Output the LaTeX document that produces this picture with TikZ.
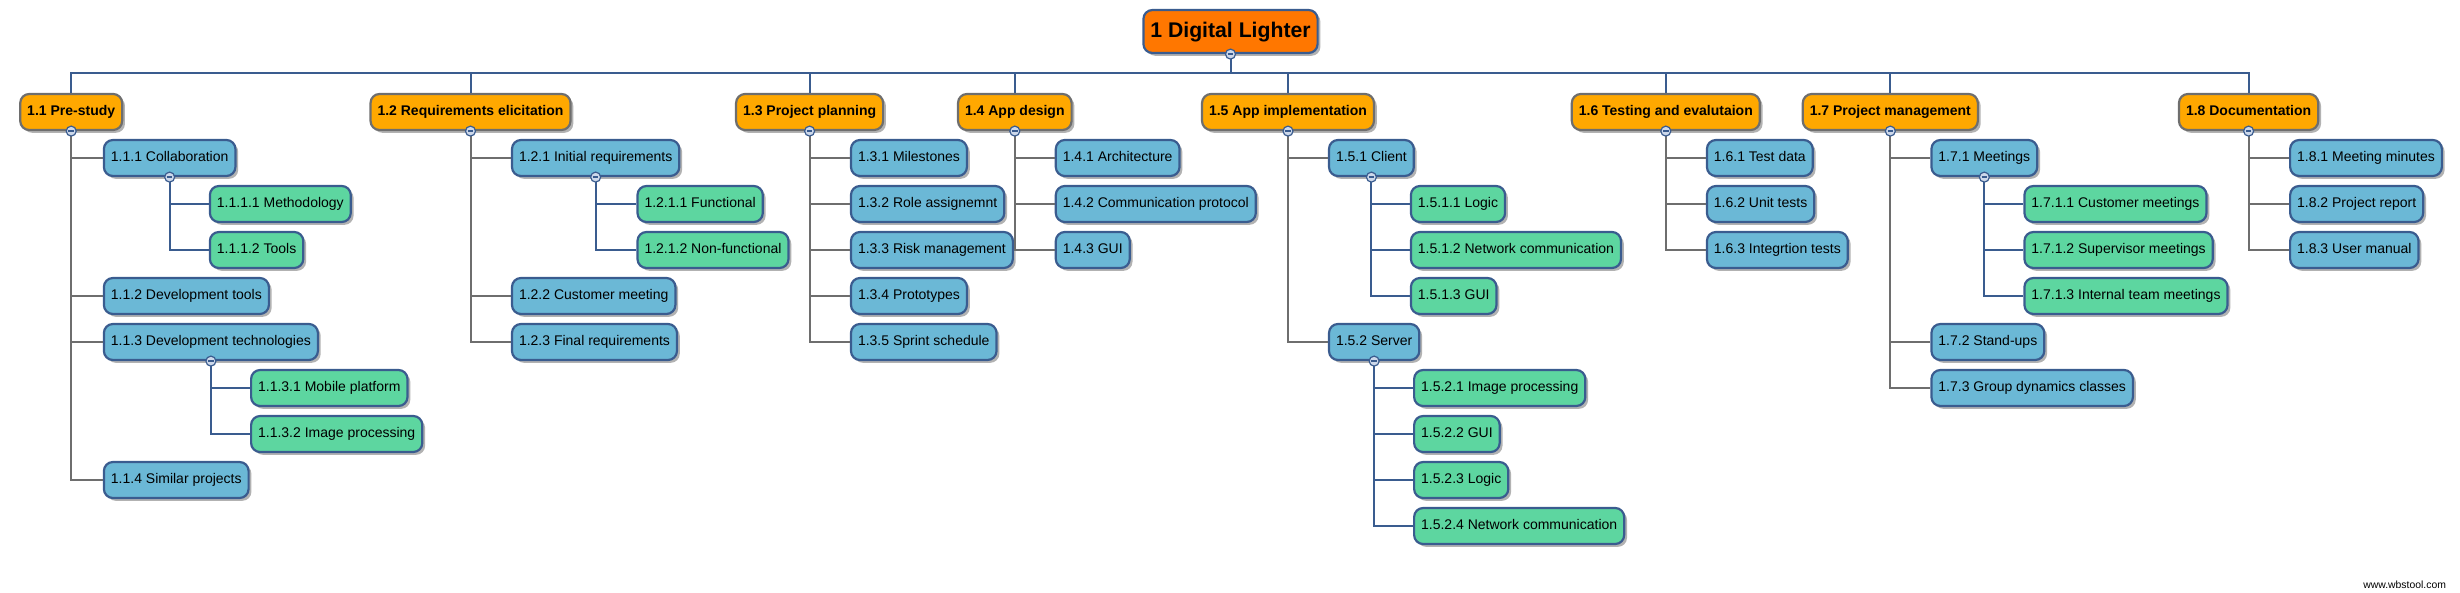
\documentclass[tikz,border=0pt]{standalone}
\usepackage{fontspec}
\setmainfont{Liberation Sans}
\usetikzlibrary{shadows}
\definecolor{wbsroot}{RGB}{255,119,0}
\definecolor{wbsorange}{RGB}{255,168,0}
\definecolor{wbsblue}{RGB}{107,184,214}
\definecolor{wbsgreen}{RGB}{93,214,160}
\definecolor{wbsline}{RGB}{58,92,143}
\definecolor{wbsgray}{RGB}{110,110,110}
\definecolor{wbsknob}{RGB}{205,216,234}
\begin{document}
\begin{tikzpicture}[x=0.5pt,y=-0.5pt,
  box/.style={draw=wbsline,line width=1.1pt,rounded corners=4.5pt,minimum height=18pt,
    inner xsep=3.5pt,inner ysep=0pt,text height=5.3pt,text depth=1.5pt,
    font=\fontsize{7}{8}\selectfont,
    drop shadow={shadow xshift=1.4pt,shadow yshift=-1.4pt,opacity=0.3,fill=black}},
  top/.style={box,fill=wbsroot,minimum height=21.5pt,text height=7.8pt,text depth=2.2pt,
    font=\fontsize{10.6}{12}\selectfont\bfseries},
  phase/.style={box,fill=wbsorange,draw=wbsgray,font=\fontsize{7}{8}\selectfont\bfseries},
  task/.style={box,fill=wbsblue,anchor=west},
  sub/.style={box,fill=wbsgreen,anchor=west},
  bus/.style={wbsline,line width=1pt},
  stem/.style={wbsgray,line width=1pt},
  twig/.style={wbsline,line width=1pt},
  knob/.style={circle,draw=wbsline,fill=wbsknob,line width=0.6pt,minimum size=5pt,inner sep=0pt,
    path picture={\draw[wbsline,line width=0.8pt] ([xshift=-1.4pt]path picture bounding box.center)
      -- ([xshift=1.4pt]path picture bounding box.center);}}]
  \useasboundingbox (0,0) rectangle (2460,593);
  % Root
  \node[top] (root) at (1230.5,31.5) {1 Digital Lighter};
  % Phases
  \node[phase] (p11) at (71.2,112) {1.1 Pre-study};
  \node[phase] (p12) at (470.5,112) {1.2 Requirements elicitation};
  \node[phase] (p13) at (809.6,112) {1.3 Project planning};
  \node[phase] (p14) at (1014.8,112) {1.4 App design};
  \node[phase] (p15) at (1288,112) {1.5 App implementation};
  \node[phase] (p16) at (1665.8,112) {1.6 Testing and evalutaion};
  \node[phase] (p17) at (1890.3,112) {1.7 Project management};
  \node[phase] (p18) at (2248.6,112) {1.8 Documentation};
  % 1.1 Pre-study
  \node[task] (t111) at (102.8,158) {1.1.1 Collaboration};
  \node[sub] (s1111) at (208.8,204) {1.1.1.1 Methodology};
  \node[sub] (s1112) at (208.8,250) {1.1.1.2 Tools};
  \node[task] (t112) at (102.8,296) {1.1.2 Development tools};
  \node[task] (t113) at (102.8,342) {1.1.3 Development technologies};
  \node[sub] (s1131) at (250,388) {1.1.3.1 Mobile platform};
  \node[sub] (s1132) at (250,434) {1.1.3.2 Image processing};
  \node[task] (t114) at (102.8,480) {1.1.4 Similar projects};
  % 1.2 Requirements
  \node[task] (t121) at (510.9,158) {1.2.1 Initial requirements};
  \node[sub] (s1211) at (636.4,204) {1.2.1.1 Functional};
  \node[sub] (s1212) at (636.4,250) {1.2.1.2 Non-functional};
  \node[task] (t122) at (510.9,296) {1.2.2 Customer meeting};
  \node[task] (t123) at (510.9,342) {1.2.3 Final requirements};
  % 1.3 Planning
  \node[task] (t131) at (849.9,158) {1.3.1 Milestones};
  \node[task] (t132) at (849.9,204) {1.3.2 Role assignemnt};
  \node[task] (t133) at (849.9,250) {1.3.3 Risk management};
  \node[task] (t134) at (849.9,296) {1.3.4 Prototypes};
  \node[task] (t135) at (849.9,342) {1.3.5 Sprint schedule};
  % 1.4 Design
  \node[task] (t141) at (1054.7,158) {1.4.1 Architecture};
  \node[task] (t142) at (1054.7,204) {1.4.2 Communication protocol};
  \node[task] (t143) at (1054.7,250) {1.4.3 GUI};
  % 1.5 Implementation
  \node[task] (t151) at (1327.9,158) {1.5.1 Client};
  \node[sub] (s1511) at (1409.8,204) {1.5.1.1 Logic};
  \node[sub] (s1512) at (1409.8,250) {1.5.1.2 Network communication};
  \node[sub] (s1513) at (1409.8,296) {1.5.1.3 GUI};
  \node[task] (t152) at (1327.9,342) {1.5.2 Server};
  \node[sub] (s1521) at (1413,388) {1.5.2.1 Image processing};
  \node[sub] (s1522) at (1413,434) {1.5.2.2 GUI};
  \node[sub] (s1523) at (1413,480) {1.5.2.3 Logic};
  \node[sub] (s1524) at (1413,526) {1.5.2.4 Network communication};
  % 1.6 Testing
  \node[task] (t161) at (1705.8,158) {1.6.1 Test data};
  \node[task] (t162) at (1705.8,204) {1.6.2 Unit tests};
  \node[task] (t163) at (1705.8,250) {1.6.3 Integrtion tests};
  % 1.7 Management
  \node[task] (t171) at (1930.3,158) {1.7.1 Meetings};
  \node[sub] (s1711) at (2023.3,204) {1.7.1.1 Customer meetings};
  \node[sub] (s1712) at (2023.3,250) {1.7.1.2 Supervisor meetings};
  \node[sub] (s1713) at (2023.3,296) {1.7.1.3 Internal team meetings};
  \node[task] (t172) at (1930.3,342) {1.7.2 Stand-ups};
  \node[task] (t173) at (1930.3,388) {1.7.3 Group dynamics classes};
  % 1.8 Documentation
  \node[task] (t181) at (2289,158) {1.8.1 Meeting minutes};
  \node[task] (t182) at (2289,204) {1.8.2 Project report};
  \node[task] (t183) at (2289,250) {1.8.3 User manual};
  % Bus from root to phases
  \coordinate (bus) at (1230.5,73.5);
  \draw[bus] (root.south) -- (bus);
  \draw[bus] (bus) -| (p11.north);
  \draw[bus] (bus) -| (p12.north);
  \draw[bus] (bus) -| (p13.north);
  \draw[bus] (bus) -| (p14.north);
  \draw[bus] (bus) -| (p15.north);
  \draw[bus] (bus) -| (p16.north);
  \draw[bus] (bus) -| (p17.north);
  \draw[bus] (bus) -| (p18.north);
  % Phase to task
  \draw[stem] (p11.south) |- (t111.west);
  \draw[stem] (p11.south) |- (t112.west);
  \draw[stem] (p11.south) |- (t113.west);
  \draw[stem] (p11.south) |- (t114.west);
  \draw[stem] (p12.south) |- (t121.west);
  \draw[stem] (p12.south) |- (t122.west);
  \draw[stem] (p12.south) |- (t123.west);
  \draw[stem] (p13.south) |- (t131.west);
  \draw[stem] (p13.south) |- (t132.west);
  \draw[stem] (p13.south) |- (t133.west);
  \draw[stem] (p13.south) |- (t134.west);
  \draw[stem] (p13.south) |- (t135.west);
  \draw[stem] (p14.south) |- (t141.west);
  \draw[stem] (p14.south) |- (t142.west);
  \draw[stem] (p14.south) |- (t143.west);
  \draw[stem] (p15.south) |- (t151.west);
  \draw[stem] (p15.south) |- (t152.west);
  \draw[stem] (p16.south) |- (t161.west);
  \draw[stem] (p16.south) |- (t162.west);
  \draw[stem] (p16.south) |- (t163.west);
  \draw[stem] (p17.south) |- (t171.west);
  \draw[stem] (p17.south) |- (t172.west);
  \draw[stem] (p17.south) |- (t173.west);
  \draw[stem] (p18.south) |- (t181.west);
  \draw[stem] (p18.south) |- (t182.west);
  \draw[stem] (p18.south) |- (t183.west);
  % Task to subtask
  \draw[twig] (t111.south) |- (s1111.west);
  \draw[twig] (t111.south) |- (s1112.west);
  \draw[twig] (t113.south) |- (s1131.west);
  \draw[twig] (t113.south) |- (s1132.west);
  \draw[twig] (t121.south) |- (s1211.west);
  \draw[twig] (t121.south) |- (s1212.west);
  \draw[twig] (t151.south) |- (s1511.west);
  \draw[twig] (t151.south) |- (s1512.west);
  \draw[twig] (t151.south) |- (s1513.west);
  \draw[twig] (t152.south) |- (s1521.west);
  \draw[twig] (t152.south) |- (s1522.west);
  \draw[twig] (t152.south) |- (s1523.west);
  \draw[twig] (t152.south) |- (s1524.west);
  \draw[twig] (t171.south) |- (s1711.west);
  \draw[twig] (t171.south) |- (s1712.west);
  \draw[twig] (t171.south) |- (s1713.west);
  % Collapse knobs
  \node[knob] (k1) at (root.south) {};
  \node[knob] (k11) at (p11.south) {};
  \node[knob] (k12) at (p12.south) {};
  \node[knob] (k13) at (p13.south) {};
  \node[knob] (k14) at (p14.south) {};
  \node[knob] (k15) at (p15.south) {};
  \node[knob] (k16) at (p16.south) {};
  \node[knob] (k17) at (p17.south) {};
  \node[knob] (k18) at (p18.south) {};
  \node[knob] (k111) at (t111.south) {};
  \node[knob] (k113) at (t113.south) {};
  \node[knob] (k121) at (t121.south) {};
  \node[knob] (k151) at (t151.south) {};
  \node[knob] (k152) at (t152.south) {};
  \node[knob] (k171) at (t171.south) {};
  % Credit
  \node[font=\fontsize{5.2}{6}\selectfont,anchor=east] (credit) at (2453,585) {www.wbstool.com};
\end{tikzpicture}
\end{document}
